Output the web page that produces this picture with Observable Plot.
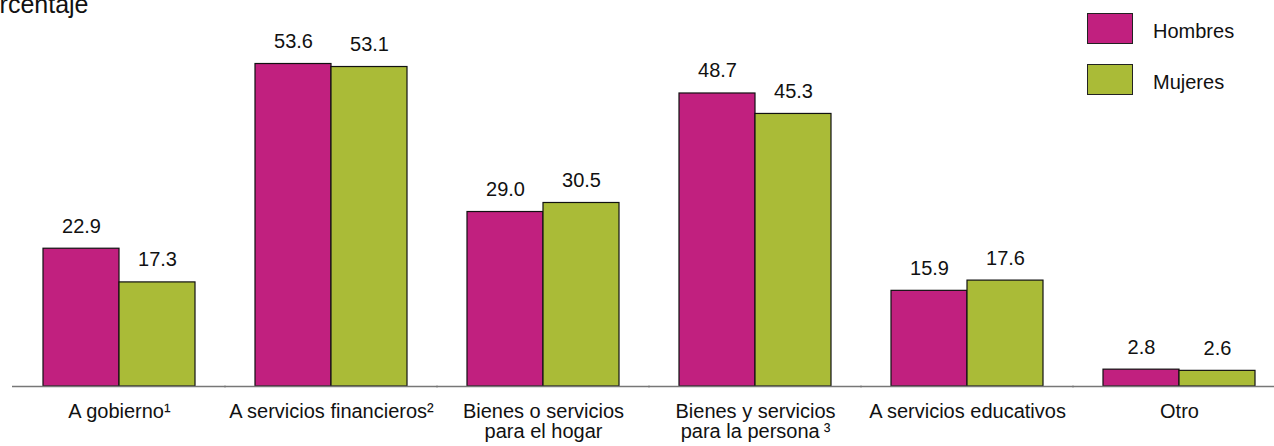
<!DOCTYPE html>
<html>
<head>
<meta charset="utf-8">
<script src="https://cdn.jsdelivr.net/npm/d3@7"></script>
<script src="https://cdn.jsdelivr.net/npm/@observablehq/plot@0.6"></script>
<style>
  html, body { margin: 0; padding: 0; background: #fff; }
  #wrap { position: relative; width: 1274px; height: 446px; overflow: hidden; font-family: "Liberation Sans", Arial, sans-serif; color: #111; }
  #title { position: absolute; left: -31px; top: -10px; font-size: 25px; line-height: 29px; white-space: nowrap; }
  .leg { position: absolute; left: 1087px; display: flex; align-items: center; font-size: 20px; }
  .sw { width: 44px; height: 29px; border: 1px solid #222; margin-right: 20px; }
  #chart { position: absolute; left: 0; top: 0; }
</style>
</head>
<body>
<div id="wrap">
  <div id="chart"></div>
  <div id="title">Porcentaje</div>
  <div id="legend"></div>
</div>
<script>
const categories = [
  "A gobierno¹",
  "A servicios financieros²",
  "Bienes o servicios\npara el hogar",
  "Bienes y servicios\npara la persona\u2009³",
  "A servicios educativos",
  "Otro"
];
const series = ["Hombres", "Mujeres"];
const hombres = [22.9, 53.6, 29.0, 48.7, 15.9, 2.8];
const mujeres = [17.3, 53.1, 30.5, 45.3, 17.6, 2.6];
const colors = ["#C1207F", "#AABB37"];

const data = [];
categories.forEach((c, i) => {
  data.push({cat: c, sex: series[0], value: hombres[i]});
  data.push({cat: c, sex: series[1], value: mujeres[i]});
});

const plot = Plot.plot({
  width: 1274,
  height: 446,
  marginLeft: 41,
  marginRight: 18,
  marginTop: 25,
  marginBottom: 60,
  style: {fontFamily: "'Liberation Sans', Arial, sans-serif", fontSize: "20px", color: "#111", background: "transparent"},
  fx: {domain: categories, paddingInner: 0.285, paddingOuter: 0, label: null, axis: "bottom", tickSize: 0, tickPadding: 17},
  x: {domain: series, padding: 0, axis: null},
  y: {domain: [0, 60], axis: null},
  color: {domain: series, range: colors},
  marks: [
    Plot.barY(data, {fx: "cat", x: "sex", y: "value", fill: "sex", stroke: "#111", strokeWidth: 1.2}),
    Plot.text(data, {fx: "cat", x: "sex", y: "value", text: d => d.value.toFixed(1), lineAnchor: "bottom", dy: -16, fontSize: 20, fill: "#111"}),
    Plot.ruleY([0], {stroke: "#777", strokeWidth: 1.5, insetLeft: -31, insetRight: -31})
  ]
});
document.getElementById("chart").appendChild(plot);

const legend = document.getElementById("legend");
series.forEach((s, i) => {
  const row = document.createElement("div");
  row.className = "leg";
  row.style.top = (13 + i * 51) + "px";
  const sw = document.createElement("div");
  sw.className = "sw";
  sw.style.background = colors[i];
  const lab = document.createElement("span");
  lab.textContent = s;
  lab.style.position = "relative";
  lab.style.top = "3px";
  row.appendChild(sw);
  row.appendChild(lab);
  legend.appendChild(row);
});
</script>
</body>
</html>
